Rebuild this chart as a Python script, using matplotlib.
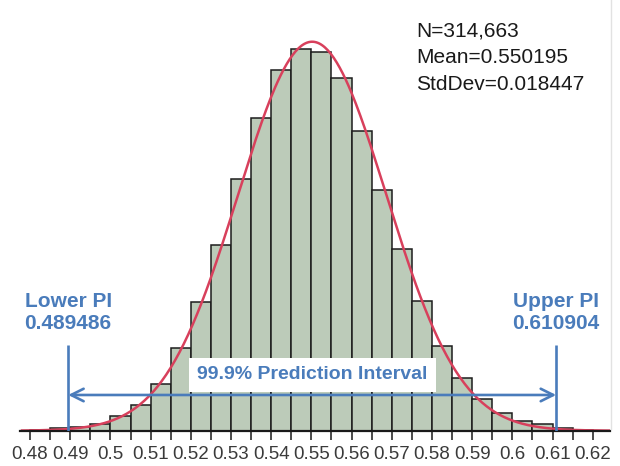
import numpy as np
import matplotlib
matplotlib.use("Agg")
import matplotlib.pyplot as plt
from matplotlib.lines import Line2D
import matplotlib.transforms as mtransforms

# ---- data ----
bin_left = [0.480, 0.485, 0.490, 0.495, 0.500, 0.505, 0.510, 0.515, 0.520, 0.525,
            0.530, 0.535, 0.540, 0.545, 0.550, 0.555, 0.560, 0.565, 0.570, 0.575,
            0.580, 0.585, 0.590, 0.595, 0.600, 0.605, 0.610, 0.615]
counts = [30, 261, 305, 583, 1296, 2262, 4124, 7221, 11223, 16243,
          22011, 27379, 31529, 33408, 33121, 30885, 26248, 21089, 15869, 11371,
          7369, 4628, 2784, 1514, 870, 557, 261, 87]
bin_width = 0.005
n_obs = 314663
mean = 0.550195
std = 0.018447
lower_pi = 0.489486
upper_pi = 0.610904
tick_values = [0.48, 0.49, 0.50, 0.51, 0.52, 0.53, 0.54, 0.55, 0.56, 0.57, 0.58, 0.59, 0.60, 0.61, 0.62]
minor_tick_values = [0.485, 0.495, 0.505, 0.515, 0.525, 0.535, 0.545, 0.555, 0.565, 0.575,
                     0.585, 0.595, 0.605, 0.615]
interval_label = "99.9% Prediction Interval"

plt.rcParams['font.family'] = ['Liberation Sans', 'DejaVu Sans']

W, H = 620, 466
fig = plt.figure(figsize=(W / 100, H / 100), dpi=100)
ax_left, ax_right = 20, 610
ax_bottom_px, ax_top_px = 430.7, 10
ax = fig.add_axes([ax_left / W, (H - ax_bottom_px) / H,
                   (ax_right - ax_left) / W, (ax_bottom_px - ax_top_px) / H])

blue = '#4a7cbb'
red = '#d8405c'

ax.bar(bin_left, counts, width=bin_width, align='edge', color='#bccbb9',
       edgecolor='#1c1c1c', linewidth=1.1, zorder=2)

xs = np.linspace(0.478, 0.624, 400)
pdf = n_obs * bin_width / (std * np.sqrt(2 * np.pi)) * np.exp(-0.5 * ((xs - mean) / std) ** 2)
ax.plot(xs, pdf, color=red, lw=1.8, zorder=3)

ax.set_xlim(0.4775, 0.6243)
ax.set_ylim(0, 36800)

for s in ['top', 'left', 'right']:
    ax.spines[s].set_visible(False)
ax.spines['bottom'].set_color('#1a1a1a')
ax.spines['bottom'].set_linewidth(1.6)
ax.spines['bottom'].set_zorder(4)
ax.set_yticks([])
ax.set_xticks(tick_values)
ax.set_xticklabels([f"{v:g}" for v in tick_values])
ax.set_xticks(minor_tick_values, minor=True)
ax.tick_params(axis='x', which='major', direction='out', length=6.5, width=1.1,
               color='#1a1a1a', pad=4.5, labelsize=13.5, labelcolor='#3a3a3a')
ax.tick_params(axis='x', which='minor', direction='out', length=6.5, width=1.1,
               color='#1a1a1a')

trans = mtransforms.blended_transform_factory(ax.transData, ax.transAxes)
line_top = 0.2037
for v in (lower_pi, upper_pi):
    ax.plot([v, v], [0, line_top], transform=trans, color=blue, lw=1.9, zorder=5,
            solid_capstyle='butt')

arrow_y = 0.0849
ax.annotate('', xy=(lower_pi, arrow_y), xytext=(upper_pi, arrow_y),
            xycoords=trans, textcoords=trans,
            arrowprops=dict(arrowstyle='<->,head_length=0.9,head_width=0.45',
                            color=blue, lw=1.9, shrinkA=0, shrinkB=0), zorder=5)

ax.text((lower_pi + upper_pi) / 2, 0.1324, interval_label, transform=trans,
        ha='center', va='center', fontsize=14, fontweight='bold', color=blue,
        bbox=dict(boxstyle='square,pad=0.42', fc='white', ec='none'), zorder=6)

ax.text(lower_pi, 0.281, f"Lower PI\n{lower_pi:.6f}", transform=trans,
        ha='center', va='center', multialignment='center', fontsize=15,
        fontweight='bold', color=blue, linespacing=1.15, zorder=6)
ax.text(upper_pi, 0.281, f"Upper PI\n{upper_pi:.6f}", transform=trans,
        ha='center', va='center', multialignment='center', fontsize=15,
        fontweight='bold', color=blue, linespacing=1.15, zorder=6)

stats_lines = [f"N={n_obs:,}", f"Mean={mean:.6f}", f"StdDev={std:.6f}"]
for i, t in enumerate(stats_lines):
    fig.text(416 / W, 1 - (31 + 26.5 * i) / H, t, ha='left', va='center',
             fontsize=15, color='#1a1a1a')

fig.add_artist(Line2D([611 / W, 611 / W], [0.08, 1.0], transform=fig.transFigure,
                      color='#e2e2e2', lw=1.0))

fig.savefig('out.png', dpi=100, facecolor='white')
